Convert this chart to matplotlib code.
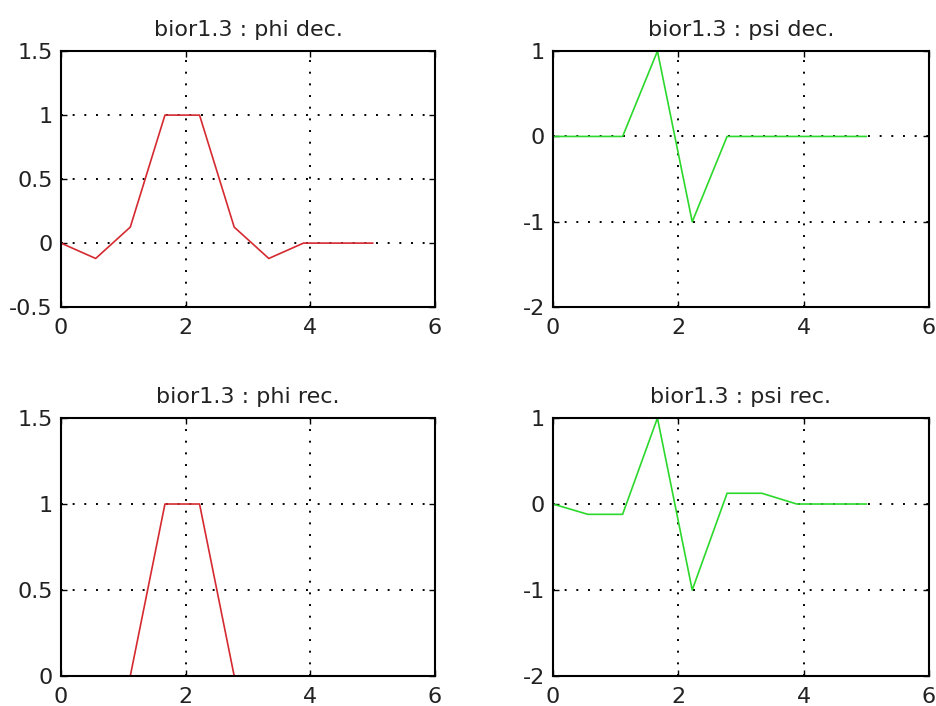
import numpy as np
import matplotlib
matplotlib.use('Agg')
import matplotlib.pyplot as plt

plt.rcParams['font.family'] = ['DejaVu Sans']

# sample positions (support 0..5, 10 points)
x = [0, 0.556, 1.111, 1.667, 2.222, 2.778, 3.333, 3.889, 4.444, 5.0]

phi_dec = [0, -0.12, 0.125, 1.0, 1.0, 0.125, -0.12, 0, 0, 0]
psi_dec = [0, 0, 0, 1.0, -1.0, 0, 0, 0, 0, 0]
phi_rec = [0, 0, 0, 1.0, 1.0, 0, 0, 0, 0, 0]
psi_rec = [0, -0.12, -0.12, 1.0, -1.0, 0.125, 0.125, 0, 0, 0]

titles = ['bior1.3 : phi dec.', 'bior1.3 : psi dec.',
          'bior1.3 : phi rec.', 'bior1.3 : psi rec.']
series = [phi_dec, psi_dec, phi_rec, psi_rec]
colors = ['#d42a30', '#2cd82c', '#d42a30', '#2cd82c']
ylims = [(-0.5, 1.5), (-2, 1), (0, 1.5), (-2, 1)]
yticks = [[-0.5, 0, 0.5, 1, 1.5], [-2, -1, 0, 1], [0, 0.5, 1, 1.5], [-2, -1, 0, 1]]
yticklabels = [['-0.5', '0', '0.5', '1', '1.5'], ['-2', '-1', '0', '1'],
               ['0', '0.5', '1', '1.5'], ['-2', '-1', '0', '1']]

# axes rectangles [left, bottom, width, height] in figure fractions
rects = [[0.0652, 0.565, 0.3996, 0.3626],
         [0.5908, 0.565, 0.4017, 0.3626],
         [0.0652, 0.0425, 0.3996, 0.3654],
         [0.5908, 0.0425, 0.4017, 0.3654]]

fig = plt.figure(figsize=(9.36, 7.06), dpi=100)

for i in range(4):
    ax = fig.add_axes(rects[i])
    ax.plot(x, series[i], color=colors[i], lw=1.2, zorder=3)
    ax.set_xlim(0, 6)
    ax.set_ylim(*ylims[i])
    ax.set_xticks([0, 2, 4, 6])
    ax.set_xticklabels(['0', '2', '4', '6'])
    ax.set_yticks(yticks[i])
    ax.set_yticklabels(yticklabels[i])
    ax.grid(True, color='black', linestyle=(0, (1, 5)), linewidth=1.4)
    ax.tick_params(direction='in', length=4, width=1, top=True, right=True,
                   labelsize=16, colors='black', labelcolor='#222222')
    ax.tick_params(axis='x', pad=8)
    ax.tick_params(axis='y', pad=6)
    for s in ax.spines.values():
        s.set_linewidth(1.5)
        s.set_zorder(4)
    ax.set_title(titles[i], fontsize=16, pad=11, color='#222222')

plt.savefig('out.png', dpi=100)
